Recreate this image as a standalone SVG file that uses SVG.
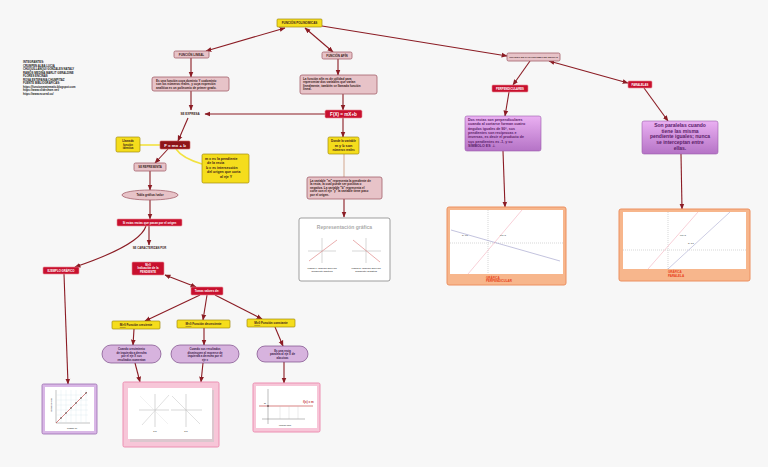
<svg xmlns="http://www.w3.org/2000/svg" width="768" height="467" viewBox="0 0 768 467">
<defs>
<marker id="ah" markerUnits="userSpaceOnUse" markerWidth="6" markerHeight="6" viewBox="0 0 10 10" refX="9" refY="5" orient="auto-start-reverse"><path d="M0,1 L10,5 L0,9 z" fill="#8b1c24"/></marker>
<linearGradient id="pg" x1="0" y1="0" x2="0" y2="1"><stop offset="0" stop-color="#eab0f2"/><stop offset="1" stop-color="#b573c6"/></linearGradient>
<style>
text{font-family:"Liberation Sans",Arial,sans-serif;font-weight:bold}
.c{fill:none;stroke:#8b1c24;stroke-width:1.1}
.cy{fill:none;stroke:#f2e240;stroke-width:1.6}
.pk{fill:#e7c3c8;stroke:#a3606b;stroke-width:0.8}
.rd{fill:#c8102e;stroke:#e88a96;stroke-width:0.6}
.yl{fill:#f5dd1c;stroke:#a08a10;stroke-width:0.7}
.pu{fill:url(#pg);stroke:#9b5cab;stroke-width:0.6}
.pl{fill:#d7b3de;stroke:#7a4a86;stroke-width:0.7}
.t3{font-size:3px;fill:#3a1a1a}
.w{fill:#fff}
.pt{fill:#5a2068}
.ax{stroke:#999;stroke-width:0.4;fill:none}
</style>
</defs>
<rect width="768" height="467" fill="#f7f7f7"/>

<g id="connectors">
<path class="c" d="M206,51 L285,28" marker-start="url(#ah)" marker-end="url(#ah)"/>
<path class="c" d="M305,28 L333,52" marker-start="url(#ah)" marker-end="url(#ah)"/>
<path class="c" d="M322,26 L507,56" marker-end="url(#ah)"/>
<path class="c" d="M191,58 L191,77" marker-end="url(#ah)"/>
<path class="c" d="M191,91 L191,110" marker-end="url(#ah)"/>
<path class="c" d="M325,114 L205,114" marker-end="url(#ah)"/>
<path class="c" d="M338,59 L338,75" marker-end="url(#ah)"/>
<path class="c" d="M343,94 L343,110" marker-end="url(#ah)"/>
<path class="c" d="M343,118 L343,137" marker-end="url(#ah)"/>
<path d="M344,154 L344,177" stroke="#d9b4a0" stroke-width="1.2" fill="none"/>
<path class="c" d="M344,199 L344,217" marker-end="url(#ah)"/>
<path class="c" d="M530,61 L513,85" marker-end="url(#ah)"/>
<path class="c" d="M549,61 L628,83" marker-start="url(#ah)" marker-end="url(#ah)"/>
<path class="c" d="M509,92 L505,116" marker-end="url(#ah)"/>
<path class="c" d="M644,88 L668,121" marker-end="url(#ah)"/>
<path class="c" d="M503,151 L505,207" marker-end="url(#ah)"/>
<path class="c" d="M681,154 L682,209" marker-end="url(#ah)"/>
<path class="c" d="M188,118 L178,141" marker-end="url(#ah)"/>
<path class="cy" d="M160,145 L140,145"/>
<path class="cy" d="M176,149 Q182,158 202,164"/>
<path class="c" d="M168,149 L155,163" marker-end="url(#ah)"/>
<path class="c" d="M150,171 L150,190" marker-end="url(#ah)"/>
<path class="c" d="M150,200 L150,219" marker-end="url(#ah)"/>
<path class="c" d="M149,226 L149,245" marker-end="url(#ah)"/>
<path class="c" d="M146,226 Q140,245 75,267" marker-end="url(#ah)"/>
<path class="c" d="M165,275 L196,287" marker-start="url(#ah)" marker-end="url(#ah)"/>
<path class="c" d="M200,295 L145,321" marker-end="url(#ah)"/>
<path class="c" d="M207,295 L203,320" marker-end="url(#ah)"/>
<path class="c" d="M215,295 L262,319" marker-end="url(#ah)"/>
<path class="c" d="M134,329 L133,345" marker-end="url(#ah)"/>
<path class="c" d="M204,328 L204,345" marker-end="url(#ah)"/>
<path class="c" d="M275,327 L283,346" marker-end="url(#ah)"/>
<path class="c" d="M135,363 L140,382" marker-end="url(#ah)"/>
<path class="c" d="M203,363 L201,382" marker-end="url(#ah)"/>
<path class="c" d="M284,362 L284,383" marker-end="url(#ah)"/>
<path class="c" d="M64,274 L68,384" marker-end="url(#ah)"/>
</g>

<g id="credits">
<text x="23" y="63" font-size="2.8" fill="#222">INTEGRANTES:</text>
<text x="23" y="66.5" font-size="2.8" fill="#222">CRUMPEN ALBA LUCIA</text>
<text x="23" y="70" font-size="2.8" fill="#222">CHUQUILLANQUI GONZALES NATALY</text>
<text x="23" y="73.5" font-size="2.8" fill="#222">RAMOS MEDINA MARLIT GERALDINE</text>
<text x="23" y="77" font-size="2.8" fill="#222">FLORES ENCINAS</text>
<text x="23" y="80.5" font-size="2.8" fill="#222">ROSA ESTEFANIA CHUMPITAZ</text>
<text x="23" y="84" font-size="2.8" fill="#222">FUENTE BIBLIOGRAFICAS:</text>
<text x="23" y="87.5" font-size="2.8" fill="#222">https://funcionmatematic.blogspot.com</text>
<text x="23" y="91" font-size="2.8" fill="#222">https://www.slideshare.net/</text>
<text x="23" y="94.5" font-size="2.8" fill="#222">https://www.ecured.cu/</text>
</g>

<g id="n-polinomicas"><rect x="277" y="19" width="45" height="8" rx="1" class="yl"/><text x="299.5" y="24.3" class="t3" text-anchor="middle">FUNCIÓN POLINOMICAS</text></g>
<g id="n-lineal"><rect x="174" y="51" width="35" height="7" rx="1.5" class="pk"/><text x="191.5" y="55.6" class="t3" text-anchor="middle">FUNCIÓN LINEAL</text></g>
<g id="n-lineal-desc"><rect x="152" y="77" width="77" height="14" rx="2" class="pk"/>
<text x="156" y="81.5" class="t3">Es una función cuya dominio Y codominio</text>
<text x="156" y="85" class="t3">son los números reales, y cuya expresión</text>
<text x="156" y="88.5" class="t3">analítica es un polinomio de primer grado.</text></g>
<g id="n-se-expresa"><text x="190" y="115.2" class="t3" text-anchor="middle">SE EXPRESA</text></g>
<g id="n-afin"><rect x="322" y="52" width="30" height="7" rx="1.5" class="pk"/><text x="337" y="56.6" class="t3" text-anchor="middle">FUNCIÓN AFÍN</text></g>
<g id="n-afin-desc"><rect x="300" y="75" width="77" height="19" rx="2" class="pk"/>
<text x="303" y="79.5" class="t3">La función afín es de utilidad para</text>
<text x="303" y="83" class="t3">representar dos variables que varían</text>
<text x="303" y="86.5" class="t3">linealmente, también se llamada función</text>
<text x="303" y="90" class="t3">lineal.</text></g>
<g id="n-fx"><rect x="325" y="110" width="37" height="8" rx="1.5" class="rd"/><text x="343.5" y="115.6" font-size="4.6" class="w" text-anchor="middle">F(X) = mX+b</text></g>
<g id="n-donde"><rect x="328" y="137" width="31" height="17" rx="1.5" class="yl"/>
<text x="343.5" y="142" class="t3" text-anchor="middle">Donde la variable</text>
<text x="343.5" y="146.5" font-size="3.8" fill="#3a1a1a" text-anchor="middle">m y b son</text>
<text x="343.5" y="151" class="t3" text-anchor="middle">números reales</text></g>
<g id="n-variable"><rect x="307" y="177" width="75" height="22" rx="2" class="pk"/>
<text x="310" y="181.5" class="t3">La variable "m" representa la pendiente de</text>
<text x="310" y="185" class="t3">la recta, la cual puede ser positiva  o</text>
<text x="310" y="188.5" class="t3">negativa. La variable "b" representa el</text>
<text x="310" y="192" class="t3">corte con el eje "y" la variable tiene paso</text>
<text x="310" y="195.5" class="t3">por el origen.</text></g>
<g id="n-representacion"><rect x="299" y="218" width="91" height="63" rx="2" fill="#fff" stroke="#777" stroke-width="0.7"/>
<text x="344.5" y="229" font-size="5" fill="#aaa" font-family="Liberation Serif" text-anchor="middle">Representación gráfica</text>
<path class="ax" d="M308,251 L336,251 M322,238 L322,263"/>
<path d="M309,261 L337,240" stroke="#e08a8a" stroke-width="0.7"/>
<path class="ax" d="M352,251 L381,251 M366,238 L366,263"/>
<path d="M353,240 L380,262" stroke="#e08a8a" stroke-width="0.7"/>
<text x="322" y="269" font-size="2.4" fill="#555" text-anchor="middle">Figura 1: función afín con</text>
<text x="322" y="272" font-size="2.4" fill="#555" text-anchor="middle">pendiente positiva</text>
<text x="366" y="269" font-size="2.4" fill="#555" text-anchor="middle">Figura 2: función afín con</text>
<text x="366" y="272" font-size="2.4" fill="#555" text-anchor="middle">pendiente negativa</text></g>

<g id="n-cuando"><rect x="507" y="53" width="53" height="8" rx="1.5" class="pk"/><text x="533.5" y="58" font-size="2.5" fill="#3a1a1a" text-anchor="middle">CUANDO SE PARALELISMO DE RECTAS</text></g>
<g id="n-perp"><rect x="492" y="85" width="36" height="7" rx="1" class="rd"/><text x="510" y="89.6" font-size="2.8" class="w" text-anchor="middle">PERPENDICULARES</text></g>
<g id="n-para"><rect x="628" y="81" width="24" height="7" rx="1" class="rd"/><text x="640" y="85.6" font-size="2.8" class="w" text-anchor="middle">PARALELAS</text></g>
<g id="n-perp-desc"><rect x="465" y="116" width="76" height="35" rx="2" class="pu"/>
<text x="468" y="121" font-size="3.6" class="pt">Dos rectas son perpendiculares</text>
<text x="468" y="125.3" font-size="3.6" class="pt">cuando al cortarse forman cuatro</text>
<text x="468" y="129.6" font-size="3.6" class="pt">ángulos iguales de 90°, sus</text>
<text x="468" y="133.9" font-size="3.6" class="pt">pendientes son recíprocas e</text>
<text x="468" y="138.2" font-size="3.6" class="pt">inversas, es decir el producto de</text>
<text x="468" y="142.5" font-size="3.6" class="pt">sus pendientes es -1, y su</text>
<text x="468" y="146.8" font-size="3.6" class="pt">SÍMBOLO ES ⊥</text></g>
<g id="n-para-desc"><rect x="642" y="121" width="76" height="33" rx="2" class="pu"/>
<text x="680" y="127.2" font-size="5" class="pt" text-anchor="middle">Son  paralelas cuando</text>
<text x="680" y="132.8" font-size="5" class="pt" text-anchor="middle">tiene las misma</text>
<text x="680" y="138.4" font-size="5" class="pt" text-anchor="middle">pendiente iguales; nunca</text>
<text x="680" y="144" font-size="5" class="pt" text-anchor="middle">se interceptan entre</text>
<text x="680" y="149.6" font-size="5" class="pt" text-anchor="middle">ellas.</text></g>
<g id="n-graf-perp"><rect x="447" y="207" width="119" height="78" rx="2" fill="#f7b68c" stroke="#ec9060" stroke-width="1"/>
<rect x="450" y="210" width="113" height="64" fill="#fff"/>
<path class="ax" stroke-dasharray="1,1" d="M450,243 L563,243 M488,210 L488,274"/>
<path d="M451,230 L560,261" stroke="#9a9ac8" stroke-width="0.6"/>
<path d="M468,274 L522,210" stroke="#f0a0b0" stroke-width="0.5"/>
<text x="462" y="236" font-size="2.2" fill="#666">g: 1/3</text>
<text x="500" y="236" font-size="2.2" fill="#666">f(x)=x</text>
<text x="486" y="278.5" font-size="3" fill="#e8401a">GRÁFICA</text>
<text x="486" y="282" font-size="3" fill="#e8401a">PERPENDICULAR</text></g>
<g id="n-graf-para"><rect x="619" y="209" width="131" height="72" rx="2" fill="#f7b68c" stroke="#ec9060" stroke-width="1"/>
<rect x="623" y="212" width="123" height="57" fill="#fff"/>
<path class="ax" stroke-dasharray="1,1" d="M623,250 L746,250 M668,212 L668,269"/>
<path d="M648,269 L698,212" stroke="#f0a0b0" stroke-width="0.5"/>
<path d="M668,269 L730,212" stroke="#9a9ac8" stroke-width="0.5"/>
<text x="680" y="236" font-size="2.2" fill="#666">f(x)=x</text>
<text x="688" y="244" font-size="2.2" fill="#666">g: x-2</text>
<text x="668" y="272.5" font-size="3" fill="#e8401a">GRÁFICA</text>
<text x="668" y="276.5" font-size="3" fill="#e8401a">PARALELA</text></g>

<g id="n-llamada"><rect x="116" y="137" width="24" height="15" rx="1.5" class="yl"/>
<text x="128" y="142" font-size="2.8" fill="#3a1a1a" text-anchor="middle">Llamada</text>
<text x="128" y="145.5" font-size="2.8" fill="#3a1a1a" text-anchor="middle">función</text>
<text x="128" y="149" font-size="2.8" fill="#3a1a1a" text-anchor="middle">identica</text></g>
<g id="n-f"><rect x="160" y="141" width="30" height="8" rx="1" fill="#8e1418" stroke="#d06060" stroke-width="0.6"/><text x="175" y="146.5" font-size="4.4" class="w" text-anchor="middle">F = mx + b</text></g>
<g id="n-m"><rect x="202" y="154" width="47" height="29" rx="1.5" class="yl"/>
<text x="205" y="159.5" font-size="3.5" fill="#3a1a1a">m = es la pendiente</text>
<text x="207" y="164" font-size="3.5" fill="#3a1a1a">de la recta</text>
<text x="206" y="168.5" font-size="3.5" fill="#3a1a1a">b = es intersección</text>
<text x="207" y="173" font-size="3.5" fill="#3a1a1a">del origen que corta</text>
<text x="220" y="177.5" font-size="3.5" fill="#3a1a1a">al eje Y</text></g>
<g id="n-se-representa"><rect x="134" y="163" width="32" height="8" rx="1.5" class="pk"/><text x="150" y="168" font-size="2.8" fill="#3a1a1a" text-anchor="middle">SE REPRESENTA</text></g>
<g id="n-tabla"><ellipse cx="150" cy="195" rx="28" ry="5" class="pk"/><text x="150" y="196.2" class="t3" text-anchor="middle">Tabla gráfica /valor</text></g>
<g id="n-si-estas"><rect x="117" y="219" width="65" height="7" rx="1" class="rd"/><text x="149.5" y="223.6" font-size="2.9" class="w" text-anchor="middle">Si estas rectas que pasan por el origen</text></g>
<g id="n-caracterizan"><text x="149.5" y="249" font-size="2.8" fill="#3a1a1a" text-anchor="middle">SE CARACTERIZAN POR</text></g>
<g id="n-m0"><rect x="132" y="262" width="32" height="13" rx="1" class="rd"/>
<text x="148" y="266" font-size="2.8" class="w" text-anchor="middle">M&gt;0</text>
<text x="148" y="269.3" font-size="2.8" class="w" text-anchor="middle">Indicación de la</text>
<text x="148" y="272.6" font-size="2.8" class="w" text-anchor="middle">PENDIENTE</text></g>
<g id="n-ejemplo"><rect x="43" y="267" width="36" height="7" rx="1" class="rd"/><text x="61" y="271.6" font-size="2.8" class="w" text-anchor="middle">EJEMPLO GRÁFICO</text></g>
<g id="n-tomas"><rect x="191" y="287" width="32" height="8" rx="1" class="rd"/><text x="207" y="292" font-size="2.8" class="w" text-anchor="middle">Tomas valores de: </text></g>
<g id="n-creciente"><rect x="112" y="321" width="48" height="8" rx="1" class="yl"/><text x="136" y="326.2" font-size="3" fill="#3a1a1a" text-anchor="middle"><tspan text-decoration="underline">M&gt;0</tspan> Función creciente</text></g>
<g id="n-decreciente"><rect x="177" y="320" width="53" height="8" rx="1" class="yl"/><text x="203.5" y="325.2" font-size="3" fill="#3a1a1a" text-anchor="middle"><tspan text-decoration="underline">M&lt;0</tspan> Función decreciente</text></g>
<g id="n-constante"><rect x="247" y="319" width="48" height="8" rx="1" class="yl"/><text x="271" y="324.2" font-size="3" fill="#3a1a1a" text-anchor="middle"><tspan text-decoration="underline">M=0</tspan> Función constante</text></g>
<g id="n-crec-desc"><rect x="102" y="345" width="59" height="18" rx="9" class="pl"/>
<text x="131.5" y="350" font-size="2.8" fill="#3a1a4a" text-anchor="middle">Cuando crecimiento</text>
<text x="131.5" y="353.5" font-size="2.8" fill="#3a1a4a" text-anchor="middle">de izquierda a derecha</text>
<text x="131.5" y="357" font-size="2.8" fill="#3a1a4a" text-anchor="middle">por el eje X sus</text>
<text x="131.5" y="360.5" font-size="2.8" fill="#3a1a4a" text-anchor="middle">resultados aumentan</text></g>
<g id="n-decr-desc"><rect x="171" y="345" width="68" height="18" rx="9" class="pl"/>
<text x="205" y="350" font-size="2.8" fill="#3a1a4a" text-anchor="middle">Cuando sus resultados</text>
<text x="205" y="353.5" font-size="2.8" fill="#3a1a4a" text-anchor="middle">disminuyen al moverse de</text>
<text x="205" y="357" font-size="2.8" fill="#3a1a4a" text-anchor="middle">izquierda a derecha por el</text>
<text x="205" y="360.5" font-size="2.8" fill="#3a1a4a" text-anchor="middle">eje x</text></g>
<g id="n-const-desc"><rect x="257" y="346" width="51" height="16" rx="8" class="pl"/>
<text x="282.5" y="351.5" font-size="2.8" fill="#3a1a4a" text-anchor="middle">Es una recta</text>
<text x="282.5" y="355" font-size="2.8" fill="#3a1a4a" text-anchor="middle">paralela al eje X de</text>
<text x="282.5" y="358.5" font-size="2.8" fill="#3a1a4a" text-anchor="middle">abscisas</text></g>

<g id="n-graf-ejemplo"><rect x="42" y="384" width="55" height="50" rx="1.5" fill="#d9b7e6" stroke="#9b6db0" stroke-width="0.8"/>
<rect x="45" y="387" width="49" height="44" fill="#fff"/>
<path d="M56,390 L56,423 L90,423" stroke="#666" stroke-width="0.4" fill="none"/>
<path d="M56,395 H88 M56,400 H88 M56,405 H88 M56,410 H88 M56,415 H88 M61,390 V423 M66,390 V423 M71,390 V423 M76,390 V423 M81,390 V423 M86,390 V423" stroke="#cfe0e6" stroke-width="0.3"/>
<path d="M56,423 L87,392" stroke="#c03030" stroke-width="0.6"/>
<circle cx="61" cy="418" r="0.7" fill="#333"/><circle cx="66" cy="413" r="0.7" fill="#333"/><circle cx="71" cy="408" r="0.7" fill="#333"/><circle cx="76" cy="403" r="0.7" fill="#333"/><circle cx="81" cy="398" r="0.7" fill="#333"/><circle cx="86" cy="393" r="0.7" fill="#333"/>
<text x="52" y="405" font-size="2" fill="#555" transform="rotate(-90 52 405)" text-anchor="middle">Distancia (km)</text>
<text x="72" y="429" font-size="2" fill="#555" text-anchor="middle">Tiempo (h)</text></g>
<g id="n-graf-12"><rect x="123" y="382" width="96" height="65" rx="1.5" fill="#f7c6d8" stroke="#ec8fb2" stroke-width="1"/>
<rect x="130" y="390" width="84" height="52" fill="#c8c8c8" opacity="0.6"/>
<rect x="128" y="388" width="84" height="51" fill="#fff"/>
<path class="ax" d="M139,410 L169,410 M155,394 L155,427 M171,410 L202,410 M186,394 L186,427"/>
<path d="M142,425 L169,395" stroke="#ccc" stroke-width="0.6"/>
<path d="M140,396 L168,424" stroke="#ddd" stroke-width="0.4"/>
<path d="M172,396 L200,424" stroke="#ccc" stroke-width="0.6"/>
<text x="155" y="432" font-size="2" fill="#555" text-anchor="middle">a&gt;0</text>
<text x="186" y="432" font-size="2" fill="#555" text-anchor="middle">a&lt;0</text></g>
<g id="n-graf-const"><rect x="253" y="383" width="67" height="49" rx="1.5" fill="#f7c6d8" stroke="#ec8fb2" stroke-width="1"/>
<rect x="256" y="386" width="61" height="42" fill="#fff"/>
<path d="M268,389 L268,424 M262,419 L305,419" stroke="#555" stroke-width="0.4" fill="none"/>
<path d="M259,406 L313,406" stroke="#c03030" stroke-width="0.6"/>
<circle cx="268" cy="406" r="0.8" fill="#333"/>
<path d="M280,406 V419 M289,406 V419 M298,406 V419" stroke="#bbb" stroke-width="0.3"/>
<text x="303" y="403" font-size="3" fill="#c03030" font-weight="normal">f(x) = m</text>
<text x="264" y="404" font-size="2" fill="#555">m</text>
<text x="285" y="426" font-size="1.8" fill="#555" text-anchor="middle">Función lineal</text></g>
</svg>
